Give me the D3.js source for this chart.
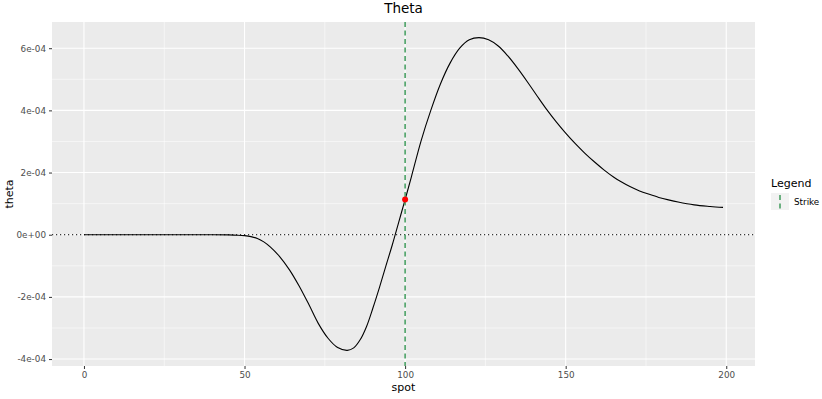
<!DOCTYPE html>
<html>
<head>
<meta charset="utf-8">
<script src="https://cdn.jsdelivr.net/npm/d3@7"></script>
<style>
  body { margin: 0; background: #fff; }
  text { font-family: "DejaVu Sans", sans-serif; }
</style>
</head>
<body>
<div id="chart_div"></div>
<script>
// values (theta in units of 1e-4)
var spot = [0, 10, 20, 30, 40, 45, 48, 50, 52, 54, 56, 58, 61, 64, 67, 70, 73, 76, 79, 82,
            84, 86, 88, 90, 92, 94, 96, 98, 100, 102, 105, 108, 111, 114, 117, 120, 123,
            126, 129, 132, 135, 138, 141, 144, 147, 150, 153, 156, 159, 162, 165, 167,
            170, 173, 176, 179, 182, 185, 190, 195, 199];
var theta_e4 = [0, 0, 0, 0, -0.002, -0.006, -0.015, -0.03, -0.06, -0.12, -0.23, -0.39,
                -0.71, -1.13, -1.65, -2.24, -2.86, -3.33, -3.63, -3.72,
                -3.64, -3.38, -2.95, -2.35, -1.70, -1.01, -0.33, 0.40, 1.13, 1.88, 3.03,
                4.00, 4.85, 5.52, 6.00, 6.27, 6.34, 6.27, 6.07, 5.75, 5.36, 4.93, 4.48,
                4.04, 3.64, 3.27, 2.93, 2.62, 2.34, 2.08, 1.85, 1.72, 1.55, 1.41, 1.30,
                1.20, 1.12, 1.05, 0.96, 0.91, 0.88];
var strike = 100;
var strike_theta = 1.13e-4;
var x_ticks = [0, 50, 100, 150, 200];
var x_minor = [25, 75, 125, 175];
var y_ticks = [-4e-4, -2e-4, 0, 2e-4, 4e-4, 6e-4];
var y_tick_labels = ["-4e-04", "-2e-04", "0e+00", "2e-04", "4e-04", "6e-04"];
var y_minor = [-3e-4, -1e-4, 1e-4, 3e-4, 5e-4];
var legend_labels = ["Strike"];

var data = spot.map(function(s, i) { return {spot: s, theta: theta_e4[i] * 1e-4}; });

var w = 822, h = 399;
var margin = {top: 22, right: 67, bottom: 33, left: 52};

var chart = d3.select("#chart_div")
    .append("svg")
    .attr("width", w)
    .attr("height", h);

// ggplot style 5% expansion
var xe = d3.extent(spot);
var xpad = (xe[1] - xe[0]) * 0.05;
var ye = d3.extent(data, function(d) { return d.theta; });
var ypad = (ye[1] - ye[0]) * 0.05;

var x = d3.scaleLinear()
    .domain([xe[0] - xpad, xe[1] + xpad])
    .range([margin.left, w - margin.right]);
var y = d3.scaleLinear()
    .domain([ye[0] - ypad, ye[1] + ypad])
    .range([h - margin.bottom, margin.top]);

chart.append("rect")
    .attr("x", margin.left)
    .attr("y", margin.top)
    .attr("width", w - margin.left - margin.right)
    .attr("height", h - margin.top - margin.bottom)
    .attr("fill", "#ebebeb");

// grid lines
var grid = chart.append("g");
x_minor.forEach(function(v) {
    grid.append("line")
        .attr("x1", x(v)).attr("x2", x(v))
        .attr("y1", margin.top).attr("y2", h - margin.bottom)
        .style("stroke", "#fff").style("stroke-width", 0.55);
});
y_minor.forEach(function(v) {
    grid.append("line")
        .attr("x1", margin.left).attr("x2", w - margin.right)
        .attr("y1", y(v)).attr("y2", y(v))
        .style("stroke", "#fff").style("stroke-width", 0.55);
});
x_ticks.forEach(function(v) {
    grid.append("line")
        .attr("x1", x(v)).attr("x2", x(v))
        .attr("y1", margin.top).attr("y2", h - margin.bottom)
        .style("stroke", "#fff").style("stroke-width", 1.1);
});
y_ticks.forEach(function(v) {
    grid.append("line")
        .attr("x1", margin.left).attr("x2", w - margin.right)
        .attr("y1", y(v)).attr("y2", y(v))
        .style("stroke", "#fff").style("stroke-width", 1.1);
});

// axes
var xAxis = d3.axisBottom(x).tickValues(x_ticks).tickSize(3).tickPadding(3);
var yAxis = d3.axisLeft(y).tickValues(y_ticks).tickSize(3).tickPadding(3)
    .tickFormat(function(d, i) { return y_tick_labels[i]; });

var gx = chart.append("g")
    .attr("transform", "translate(0," + (h - margin.bottom) + ")")
    .call(xAxis);
var gy = chart.append("g")
    .attr("transform", "translate(" + margin.left + ",0)")
    .call(yAxis);
[gx, gy].forEach(function(g) {
    g.select(".domain").remove();
    g.selectAll(".tick line").style("stroke", "#333").style("stroke-width", 1);
    g.selectAll(".tick text")
        .style("fill", "#4d4d4d")
        .style("font-size", "8.8px")
        .style("font-family", "DejaVu Sans, sans-serif");
});

// zero reference line
chart.append("line")
    .attr("x1", margin.left).attr("x2", w - margin.right)
    .attr("y1", y(0)).attr("y2", y(0))
    .style("stroke", "#000")
    .style("stroke-width", 1)
    .style("stroke-dasharray", "1.2,2.8");

// theta curve
var line = d3.line()
    .x(function(d) { return x(d.spot); })
    .y(function(d) { return y(d.theta); })
    .curve(d3.curveCatmullRom.alpha(0.5));

chart.append("path")
    .datum(data)
    .attr("d", line)
    .style("fill", "none")
    .style("stroke", "#000")
    .style("stroke-width", 1.1);

// strike line
var green = "#3f9b5b";
chart.append("line")
    .attr("x1", x(strike)).attr("x2", x(strike))
    .attr("y1", margin.top).attr("y2", h - margin.bottom)
    .style("stroke", green)
    .style("stroke-width", 1.5)
    .style("stroke-dasharray", "5,3.5");

chart.append("circle")
    .attr("cx", x(strike))
    .attr("cy", y(strike_theta))
    .attr("r", 3)
    .style("fill", "#ff0000");

// titles
chart.append("text")
    .attr("x", (margin.left + w - margin.right) / 2)
    .attr("y", 13)
    .attr("text-anchor", "middle")
    .style("font-size", "13.5px")
    .style("fill", "#000")
    .text("Theta");

chart.append("text")
    .attr("x", (margin.left + w - margin.right) / 2)
    .attr("y", 391)
    .attr("text-anchor", "middle")
    .style("font-size", "11px")
    .style("fill", "#000")
    .text("spot");

chart.append("text")
    .attr("transform", "translate(13," + ((margin.top + h - margin.bottom) / 2) + ") rotate(-90)")
    .attr("text-anchor", "middle")
    .style("font-size", "11px")
    .style("fill", "#000")
    .text("theta");

// legend
var lg = chart.append("g").attr("transform", "translate(771,0)");
lg.append("text")
    .attr("x", 0).attr("y", 187)
    .style("font-size", "11px")
    .style("fill", "#000")
    .text("Legend");
legend_labels.forEach(function(lab, i) {
    var ky = 193 + i * 17;
    lg.append("rect")
        .attr("x", 0).attr("y", ky)
        .attr("width", 18).attr("height", 17)
        .attr("fill", "#f2f2f2");
    lg.append("line")
        .attr("x1", 9).attr("x2", 9)
        .attr("y1", ky).attr("y2", ky + 17)
        .style("stroke", green)
        .style("stroke-width", 1.5)
        .style("stroke-dasharray", "5,3.5")
        .style("stroke-dashoffset", -2);
    lg.append("text")
        .attr("x", 23).attr("y", ky + 12)
        .style("font-size", "8.8px")
        .style("fill", "#000")
        .text(lab);
});
</script>
</body>
</html>
